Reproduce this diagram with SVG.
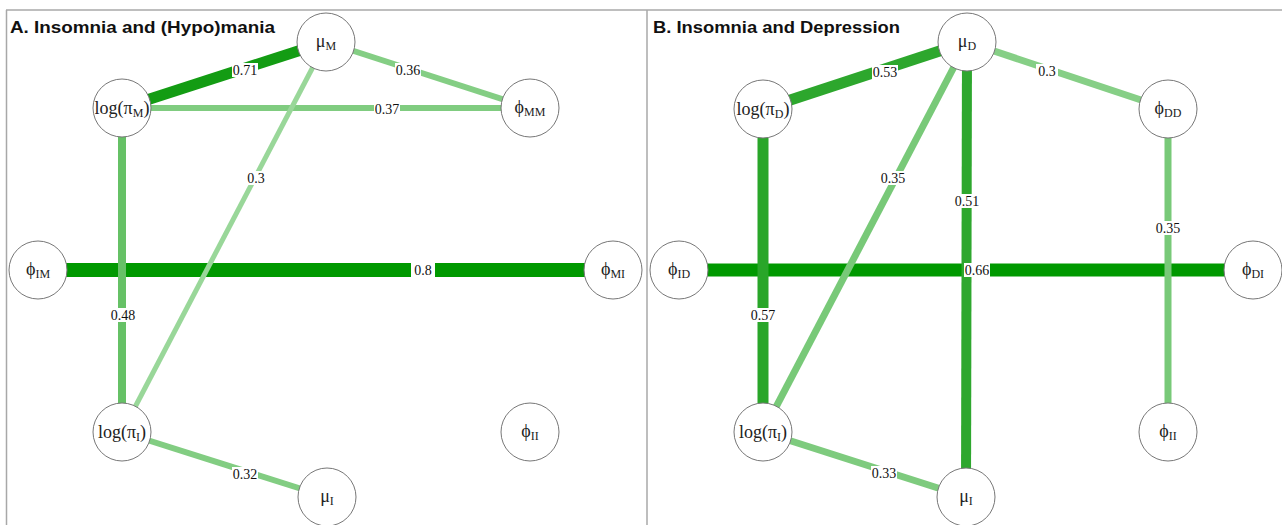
<svg xmlns="http://www.w3.org/2000/svg" width="1282" height="525" viewBox="0 0 1282 525">
<style>
.frame{stroke:#a8a8a8;stroke-width:1.5;fill:none}
.title{font-family:"Liberation Sans",Arial,sans-serif;font-weight:bold;font-size:17px;fill:#111}
.node circle{fill:#fff;stroke:#777;stroke-width:1}
.nl{font-family:"Liberation Serif","Times New Roman",serif;font-size:18px;fill:#222;text-anchor:middle}
.sb{font-size:12px}
.e{stroke-linecap:butt;fill:none}
.lb rect{fill:#fff}
.lb text{font-family:"Liberation Serif","Times New Roman",serif;font-size:14px;fill:#111;text-anchor:middle}
</style>
<rect width="1282" height="525" fill="#fff"/>
<g id="frame">
<line class="frame" x1="6" y1="10" x2="1282" y2="10"/>
<line class="frame" x1="6.5" y1="10" x2="6.5" y2="525"/>
<line class="frame" x1="647" y1="10" x2="647" y2="525"/>
</g>
<text class="title" x="10" y="33" textLength="265" lengthAdjust="spacingAndGlyphs">A. Insomnia and (Hypo)mania</text>
<text class="title" x="653" y="33" textLength="247" lengthAdjust="spacingAndGlyphs">B. Insomnia and Depression</text>

<g id="connectors">
<!-- Panel A -->
<line class="e" x1="38" y1="270" x2="613" y2="270" stroke="#009900" stroke-width="14"/>
<line class="e" x1="122" y1="108" x2="326" y2="42" stroke="#139c13" stroke-width="11"/>
<line class="e" x1="122" y1="108" x2="122" y2="432" stroke="#66c166" stroke-width="8"/>
<line class="e" x1="122" y1="108" x2="530" y2="108" stroke="#80cc80" stroke-width="6"/>
<line class="e" x1="326" y1="42" x2="530" y2="108" stroke="#84ce84" stroke-width="6"/>
<line class="e" x1="326" y1="42" x2="122" y2="432" stroke="#99d799" stroke-width="5"/>
<line class="e" x1="122" y1="432" x2="327" y2="497" stroke="#82cd82" stroke-width="6"/>
<!-- Panel B -->
<line class="e" x1="679" y1="270" x2="1253" y2="270" stroke="#009900" stroke-width="13"/>
<line class="e" x1="763" y1="109" x2="967" y2="42" stroke="#2da72d" stroke-width="11"/>
<line class="e" x1="763" y1="109" x2="763" y2="432" stroke="#29a629" stroke-width="11"/>
<line class="e" x1="967" y1="42" x2="966" y2="497" stroke="#2ea72e" stroke-width="10"/>
<line class="e" x1="967" y1="42" x2="763" y2="432" stroke="#78c978" stroke-width="7"/>
<line class="e" x1="967" y1="42" x2="1168" y2="109" stroke="#86cf86" stroke-width="7"/>
<line class="e" x1="1168" y1="109" x2="1168" y2="432" stroke="#78c978" stroke-width="7"/>
<line class="e" x1="763" y1="432" x2="966" y2="497" stroke="#7ecb7e" stroke-width="7"/>
</g>

<g id="edge-labels" class="lb">
<rect x="411" y="263" width="24" height="14"/><text x="423" y="275">0.8</text>
<rect x="232" y="63" width="26" height="14"/><text x="245" y="75">0.71</text>
<rect x="395" y="63" width="26" height="14"/><text x="408" y="75">0.36</text>
<rect x="374" y="102" width="26" height="14"/><text x="387" y="114">0.37</text>
<rect x="245" y="171" width="22" height="14"/><text x="256" y="183">0.3</text>
<rect x="110" y="308" width="26" height="14"/><text x="123" y="320">0.48</text>
<rect x="232" y="467" width="26" height="14"/><text x="245" y="479">0.32</text>

<rect x="964" y="263" width="26" height="14"/><text x="977" y="275">0.66</text>
<rect x="872" y="65" width="26" height="14"/><text x="885" y="77">0.53</text>
<rect x="1036" y="64" width="22" height="14"/><text x="1047" y="76">0.3</text>
<rect x="880" y="171" width="26" height="14"/><text x="893" y="183">0.35</text>
<rect x="954" y="194" width="26" height="14"/><text x="967" y="206">0.51</text>
<rect x="750" y="308" width="26" height="14"/><text x="763" y="320">0.57</text>
<rect x="1155" y="221" width="26" height="14"/><text x="1168" y="233">0.35</text>
<rect x="871" y="466" width="26" height="14"/><text x="884" y="478">0.33</text>
</g>

<!-- Panel A nodes -->
<g id="A-muM" class="node"><circle cx="326" cy="42" r="29"/><text class="nl" x="326" y="47">μ<tspan class="sb" dy="3">M</tspan></text></g>
<g id="A-logpiM" class="node"><circle cx="122" cy="108" r="29"/><text class="nl" x="122" y="114">log(π<tspan class="sb" dy="3">M</tspan><tspan dy="-3">)</tspan></text></g>
<g id="A-phiMM" class="node"><circle cx="530" cy="108" r="29"/><text class="nl" x="530" y="113">ϕ<tspan class="sb" dy="3">MM</tspan></text></g>
<g id="A-phiIM" class="node"><circle cx="38" cy="270" r="29"/><text class="nl" x="38" y="275">ϕ<tspan class="sb" dy="3">IM</tspan></text></g>
<g id="A-phiMI" class="node"><circle cx="613" cy="270" r="29"/><text class="nl" x="613" y="275">ϕ<tspan class="sb" dy="3">MI</tspan></text></g>
<g id="A-logpiI" class="node"><circle cx="122" cy="432" r="29"/><text class="nl" x="122" y="438">log(π<tspan class="sb" dy="3">I</tspan><tspan dy="-3">)</tspan></text></g>
<g id="A-phiII" class="node"><circle cx="530" cy="432" r="29"/><text class="nl" x="530" y="437">ϕ<tspan class="sb" dy="3">II</tspan></text></g>
<g id="A-muI" class="node"><circle cx="327" cy="497" r="29"/><text class="nl" x="327" y="502">μ<tspan class="sb" dy="3">I</tspan></text></g>

<!-- Panel B nodes -->
<g id="B-muD" class="node"><circle cx="967" cy="42" r="29"/><text class="nl" x="967" y="47">μ<tspan class="sb" dy="3">D</tspan></text></g>
<g id="B-logpiD" class="node"><circle cx="763" cy="109" r="29"/><text class="nl" x="763" y="115">log(π<tspan class="sb" dy="3">D</tspan><tspan dy="-3">)</tspan></text></g>
<g id="B-phiDD" class="node"><circle cx="1168" cy="109" r="29"/><text class="nl" x="1168" y="114">ϕ<tspan class="sb" dy="3">DD</tspan></text></g>
<g id="B-phiID" class="node"><circle cx="679" cy="270" r="29"/><text class="nl" x="679" y="275">ϕ<tspan class="sb" dy="3">ID</tspan></text></g>
<g id="B-phiDI" class="node"><circle cx="1253" cy="270" r="29"/><text class="nl" x="1253" y="275">ϕ<tspan class="sb" dy="3">DI</tspan></text></g>
<g id="B-logpiI" class="node"><circle cx="763" cy="432" r="29"/><text class="nl" x="763" y="438">log(π<tspan class="sb" dy="3">I</tspan><tspan dy="-3">)</tspan></text></g>
<g id="B-phiII" class="node"><circle cx="1168" cy="432" r="29"/><text class="nl" x="1168" y="437">ϕ<tspan class="sb" dy="3">II</tspan></text></g>
<g id="B-muI" class="node"><circle cx="966" cy="497" r="29"/><text class="nl" x="966" y="502">μ<tspan class="sb" dy="3">I</tspan></text></g>
</svg>
